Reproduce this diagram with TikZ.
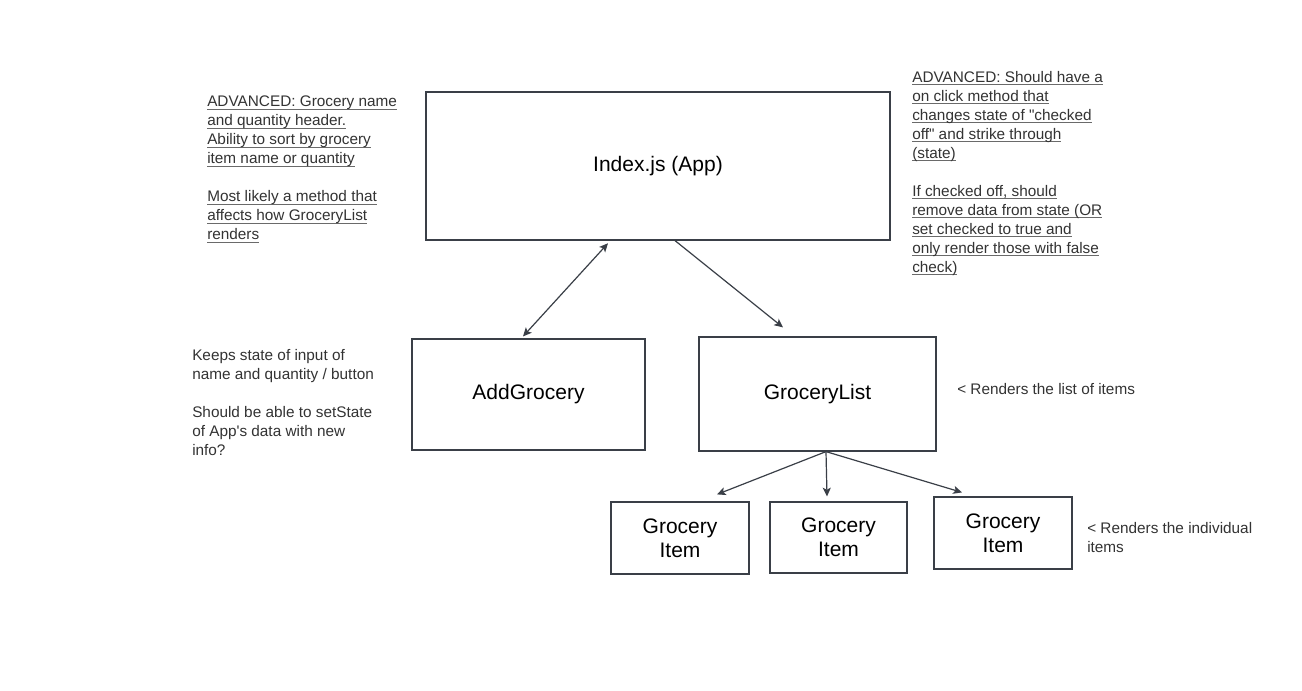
\documentclass[tikz,border=0pt]{standalone}
\usepackage{fontspec}
\setmainfont{Liberation Sans}
\newfontfamily\plainfont{Liberation Sans}
\usetikzlibrary{arrows.meta}
\definecolor{ink}{HTML}{333333}
\definecolor{edgec}{HTML}{3A3F47}
\definecolor{ulc}{HTML}{6A6A6A}
\newcommand\ulx[1]{\setbox0\hbox{#1}\rlap{\color{ulc}\rule[-2pt]{\wd0}{0.6pt}}\box0}
\tikzset{
  notetext/.style={font=\plainfont\fontsize{11.5pt}{14.25pt}\selectfont, align=left, inner sep=0pt, anchor=north west, text=ink},
  boxnode/.style={draw=edgec, line width=0.9pt, text=black, align=center, inner sep=0pt,
     font=\fontsize{15.75pt}{18pt}\selectfont},
  tip/.tip={Stealth[length=6.5pt,width=6pt,inset=1.5pt]},
  conn/.style={draw=edgec, line width=0.9pt, -tip},
  dconn/.style={draw=edgec, line width=0.9pt, tip-tip}
}
\begin{document}
\begin{tikzpicture}[x=0.75pt,y=-0.75pt]
\useasboundingbox[fill=white] (0,0) rectangle (1302,690);

% boxes
\node[boxnode, minimum width=348pt, minimum height=111pt] (idx) at (658,166) {Index.js (App)};
\node[boxnode, minimum width=174.75pt, minimum height=83.25pt] (add) at (528.5,394.5) {AddGrocery};
\node[boxnode, minimum width=177.75pt, minimum height=85.5pt] (gl) at (817.5,394) {GroceryList};
\node[boxnode, minimum width=103.5pt, minimum height=54pt] (it1) at (680,538) {Grocery\\Item};
\node[boxnode, minimum width=102.75pt, minimum height=53.25pt] (it2) at (838.5,537.5) {Grocery\\Item};
\node[boxnode, minimum width=103.5pt, minimum height=54pt] (it3) at (1003,533) {Grocery\\Item};

% connectors
\draw[dconn] ([xshift=-37.5pt,yshift=-2pt]idx.south) -- ([xshift=-4.125pt,yshift=1.5pt]add.north);
\draw[conn] ([xshift=12.75pt]idx.south) -- ([xshift=-25.875pt,yshift=6.75pt]gl.north);
\draw[conn] ([xshift=6.375pt]gl.south) -- ([xshift=27.75pt,yshift=5.25pt]it1.north);
\draw[conn] ([xshift=6.375pt]gl.south) -- ([xshift=-8.625pt,yshift=3.75pt]it2.north);
\draw[conn] ([xshift=6.375pt]gl.south) -- ([xshift=-30.75pt,yshift=3pt]it3.north);

% notes
\node[notetext] (n1) at (207,96) {%
\ulx{ADVANCED: Grocery name}\\
\ulx{and quantity header.}\\
\ulx{Ability to sort by grocery}\\
\ulx{item name or quantity}\\
\mbox{}\\
\ulx{Most likely a method that}\\
\ulx{affects how GroceryList}\\
\ulx{renders}};

\node[notetext] (n2) at (912,71) {%
\ulx{ADVANCED: Should have a}\\
\ulx{on click method that}\\
\ulx{changes state of "checked}\\
\ulx{off" and strike through}\\
\ulx{(state)}\\
\mbox{}\\
\ulx{If checked off, should}\\
\ulx{remove data from state (OR}\\
\ulx{set checked to true and}\\
\ulx{only render those with false}\\
\ulx{check)}};

\node[notetext] (n3) at (192,349) {%
Keeps state of input of\\
name and quantity / button\\
\mbox{}\\
Should be able to setState\\
of App's data with new\\
info?};

\node[notetext] (n4) at (957,383) {< Renders the list of items};
\node[notetext] (n5) at (1087,522) {< Renders the individual\\items};
\end{tikzpicture}
\end{document}
